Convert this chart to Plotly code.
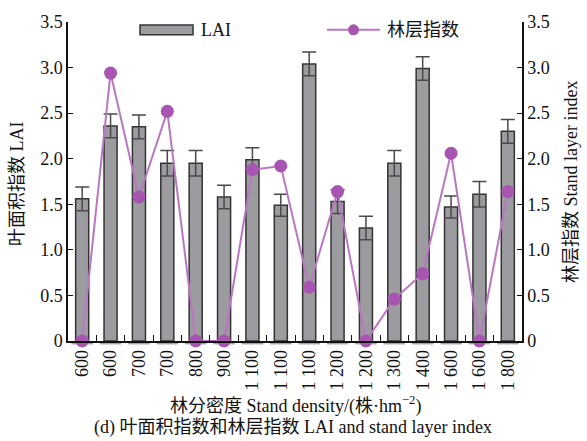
import plotly.graph_objects as go

# Stand density classes (duplicates are separate plots)
density_labels = ["600", "600", "700", "700", "800", "900", "1 100", "1 100",
                  "1 100", "1 200", "1 200", "1 300", "1 400", "1 600", "1 600", "1 800"]
lai = [1.56, 2.36, 2.35, 1.95, 1.95, 1.58, 1.99, 1.49,
       3.04, 1.53, 1.24, 1.95, 2.99, 1.47, 1.61, 2.30]
lai_err = [0.13, 0.13, 0.13, 0.14, 0.14, 0.13, 0.13, 0.12,
           0.13, 0.13, 0.13, 0.14, 0.13, 0.12, 0.14, 0.13]
layer_index = [0, 2.94, 1.58, 2.52, 0, 0, 1.88, 1.92,
               0.59, 1.64, 0, 0.46, 0.74, 2.06, 0, 1.64]
y_ticks = [0, 0.5, 1.0, 1.5, 2.0, 2.5, 3.0, 3.5]
y_ticktext = ["0", "0.5", "1.0", "1.5", "2.0", "2.5", "3.0", "3.5"]

FONT = "Times New Roman, Liberation Serif, Noto Sans CJK SC, serif"
BAR_FILL = "#9c9ca0"
PURPLE = "#a755b0"
LINE_PURPLE = "#bb76c3"

W, H = 587, 441
L, R, T, B = 68, 65, 14, 100
pw, ph = W - L - R, H - T - B


def px(x):
    return (x - L) / pw


def py(y):
    return (H - B - y) / ph


xs = list(range(len(density_labels)))

fig = go.Figure()
fig.add_trace(go.Bar(
    x=xs, y=lai, width=0.46,
    marker=dict(color=BAR_FILL, line=dict(color="#333333", width=1.5)),
    error_y=dict(type="data", array=lai_err, visible=True,
                 color="#4a4a4a", thickness=1.5, width=7),
    showlegend=False,
))
fig.add_trace(go.Scatter(
    x=xs, y=layer_index, yaxis="y2", mode="lines+markers",
    line=dict(color=LINE_PURPLE, width=2),
    marker=dict(color=PURPLE, size=13),
    showlegend=False, cliponaxis=False,
))

axis_font = dict(family=FONT, size=18, color="#111111")

fig.update_layout(
    width=W, height=H,
    margin=dict(l=L, r=R, t=T, b=B),
    paper_bgcolor="white", plot_bgcolor="white",
    font=axis_font,
    xaxis=dict(
        range=[-0.5, len(density_labels) - 0.5],
        tickvals=xs, ticktext=density_labels, tickangle=-90,
        ticks="", showgrid=False, zeroline=False,
        showline=True, linecolor="#111111", linewidth=1.5,
        tickfont=axis_font,
        minor=dict(tickvals=[i + 0.5 for i in xs[:-1]], ticks="inside",
                   ticklen=6, tickcolor="#111111", tickwidth=1.2, showgrid=False),
    ),
    yaxis=dict(
        range=[0, 3.5], tickvals=y_ticks, ticktext=y_ticktext,
        ticks="inside", ticklen=5, tickwidth=1.2, tickcolor="#111111",
        tickfont=axis_font,
        showgrid=False, zeroline=False,
        showline=True, linecolor="#111111", linewidth=1.5,
    ),
    yaxis2=dict(
        range=[0, 3.5], tickvals=y_ticks, ticktext=y_ticktext,
        overlaying="y", side="right",
        ticks="inside", ticklen=5, tickwidth=1.2, tickcolor="#111111",
        tickfont=axis_font,
        showgrid=False, zeroline=False,
        showline=True, linecolor="#111111", linewidth=1.5,
    ),
)

# Grey footing strips beneath each category on the baseline
for i in xs:
    fig.add_shape(type="rect", xref="x", yref="paper", layer="below",
                  x0=i - 0.38, x1=i + 0.38, y0=py(344.5), y1=py(341),
                  fillcolor="#a4a4a8", line=dict(width=0))

# Legend drawn as shapes + labels
fig.add_shape(type="rect", xref="paper", yref="paper",
              x0=px(140), x1=px(193), y0=py(27), y1=py(17),
              fillcolor=BAR_FILL, line=dict(color="#333333", width=1.5))
fig.add_shape(type="line", xref="paper", yref="paper",
              x0=px(327), x1=px(380), y0=py(22), y1=py(22),
              line=dict(color=LINE_PURPLE, width=2))
fig.add_shape(type="circle", xref="paper", yref="paper",
              xsizemode="pixel", ysizemode="pixel",
              xanchor=px(353.5), yanchor=py(22),
              x0=-5.5, x1=5.5, y0=-5.5, y1=5.5,
              fillcolor=PURPLE, line=dict(width=0))

annotations = [
    dict(x=px(199), y=py(22), text="LAI", xanchor="left", yanchor="middle"),
    dict(x=px(385), y=py(22), text="林层指数", xanchor="left", yanchor="middle"),
    dict(x=px(17), y=py(180), text="叶面积指数 LAI", textangle=-90,
         xanchor="center", yanchor="middle"),
    dict(x=px(571), y=py(178), text="林层指数 Stand layer index", textangle=-90,
         xanchor="center", yanchor="middle"),
    dict(x=px(295), y=py(407), text="林分密度 Stand density/(株·hm<sup>−2</sup>)",
         xanchor="center", yanchor="middle"),
    dict(x=px(293), y=py(430), text="(d) 叶面积指数和林层指数 LAI and stand layer index",
         xanchor="center", yanchor="middle"),
]
for a in annotations:
    fig.add_annotation(xref="paper", yref="paper", showarrow=False,
                       font=axis_font, **a)

fig.write_html("out.html")
